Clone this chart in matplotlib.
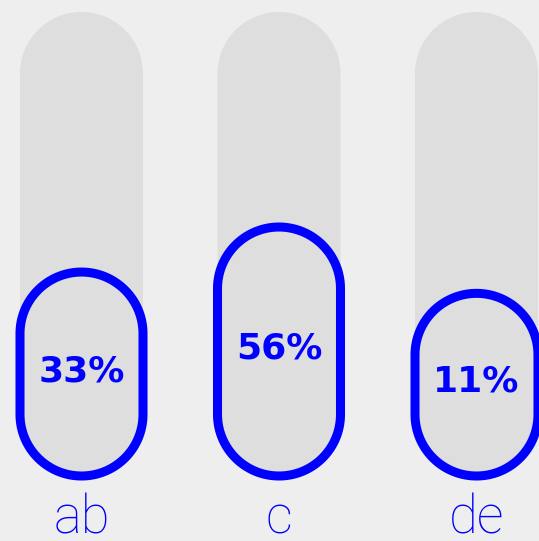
import numpy as np
import matplotlib.pyplot as plt
from matplotlib.patches import Polygon

categories = ['ab', 'c', 'de']
shares = [33, 56, 11]

BG = '#eeeeee'
TRACK = '#dedede'
BLUE = '#0000ff'

W, H = 539, 541
fig = plt.figure(figsize=(W / 100, H / 100), dpi=100, facecolor=BG)
ax = fig.add_axes([0, 0, 1, 1])
ax.set_facecolor(BG)
ax.set_xlim(0, W)
ax.set_ylim(0, H)
ax.axis('off')

# layout in pixel units
first_x = 81.5
step = 197.5
bar_w = 123
radius = bar_w / 2
base_y = 65
track_h = 464


def pill_height(v):
    # squared scale, with a floor so the label always fits inside
    return 180 + 220 * (v / 100) ** 2


def pill(cx, y0, h, **kw):
    # capsule: half circle on top and bottom joined by straight sides
    t_top = np.linspace(0, np.pi, 60)
    t_bot = np.linspace(np.pi, 2 * np.pi, 60)
    top = np.column_stack([cx + radius * np.cos(t_top), y0 + h - radius + radius * np.sin(t_top)])
    bot = np.column_stack([cx + radius * np.cos(t_bot), y0 + radius + radius * np.sin(t_bot)])
    p = Polygon(np.vstack([top, bot]), closed=True, **kw)
    ax.add_patch(p)


for i, (cat, v) in enumerate(zip(categories, shares)):
    cx = first_x + i * step
    pill(cx, base_y, track_h, facecolor=TRACK, edgecolor='none', zorder=1)
    h = pill_height(v)
    pill(cx, base_y, h, facecolor=TRACK, edgecolor=BLUE, linewidth=6.5, zorder=2)
    ax.text(cx, base_y + h / 2 + 3, f'{v}%', ha='center', va='center',
            fontsize=26, fontweight='bold', color=BLUE, family='DejaVu Sans', zorder=3)
    ax.text(cx, 7, cat, ha='center', va='baseline', fontsize=38,
            fontweight='light', color=BLUE, family='Roboto', zorder=3)

fig.savefig('out.png', dpi=100, facecolor=BG)
